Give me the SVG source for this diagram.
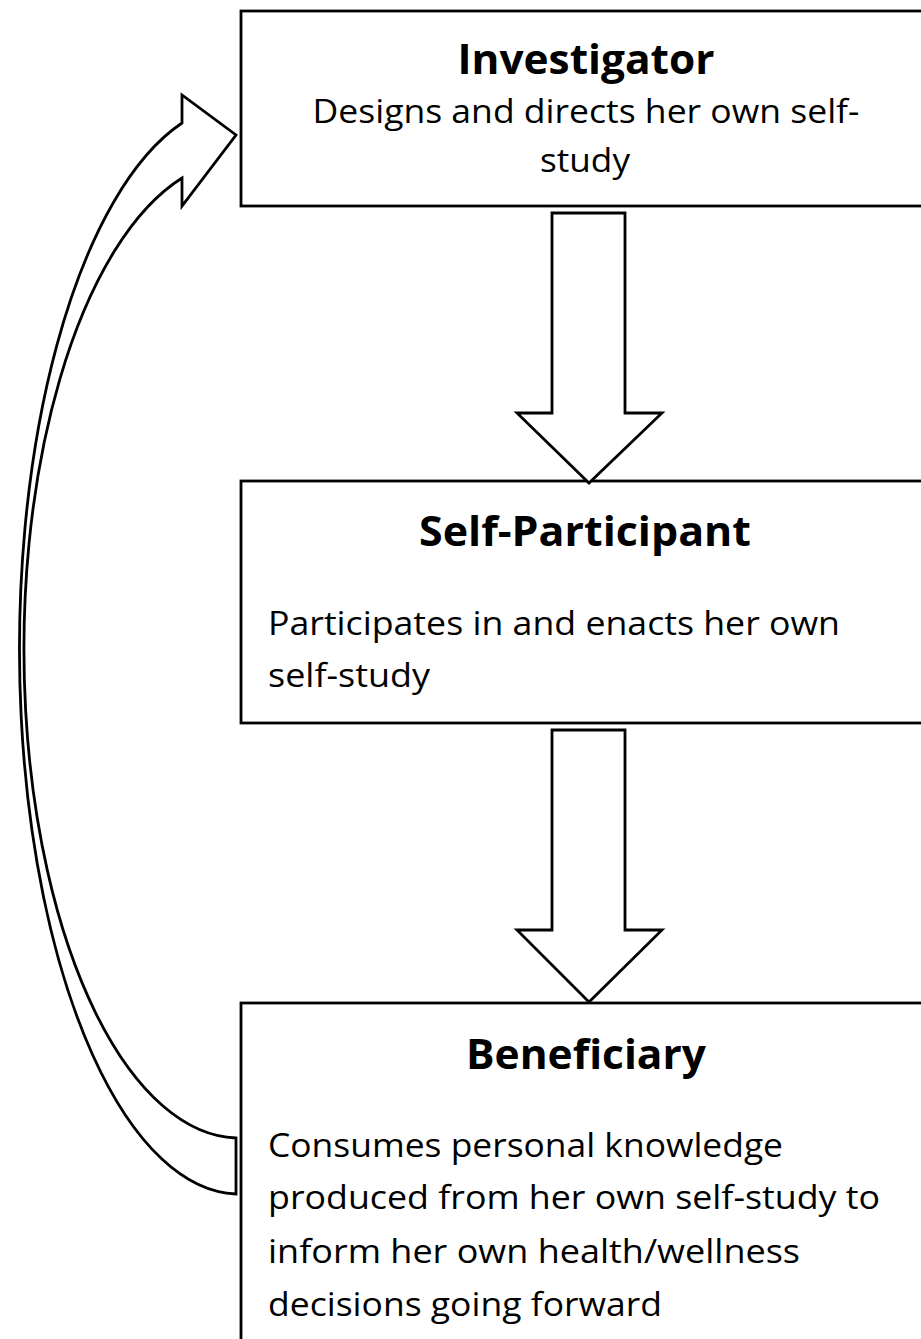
<svg xmlns="http://www.w3.org/2000/svg" width="921" height="1339" viewBox="0 0 921 1339">
<style>
.box{fill:#fff;stroke:#000;stroke-width:2.8}
.arr{fill:#fff;stroke:#000;stroke-width:2.8;stroke-linejoin:miter}
.t{font-family:"Open Sans","Liberation Sans",sans-serif;font-weight:bold;font-size:42px;fill:#000;text-anchor:middle}
.b{font-family:"Open Sans","Liberation Sans",sans-serif;font-size:32px;fill:#000}
.bc{text-anchor:middle}
</style>
<rect width="921" height="1339" fill="#fff"/>
<g id="investigator">
<rect class="box" x="241" y="11" width="700" height="195"/>
<text class="t" x="586" y="74" textLength="257" lengthAdjust="spacingAndGlyphs">Investigator</text>
<text class="b bc" x="586" y="123" textLength="547" lengthAdjust="spacingAndGlyphs">Designs and directs her own self-</text>
<text class="b bc" x="585" y="172" textLength="90" lengthAdjust="spacingAndGlyphs">study</text>
</g>
<g id="self-participant">
<rect class="box" x="241" y="481" width="700" height="242"/>
<text class="t" x="585" y="546" textLength="332" lengthAdjust="spacingAndGlyphs">Self-Participant</text>
<text class="b" x="268" y="635" textLength="572" lengthAdjust="spacingAndGlyphs">Participates in and enacts her own</text>
<text class="b" x="268" y="687" textLength="162" lengthAdjust="spacingAndGlyphs">self-study</text>
</g>
<g id="beneficiary">
<rect class="box" x="241" y="1003" width="700" height="360"/>
<text class="t" x="586" y="1069" textLength="240" lengthAdjust="spacingAndGlyphs">Beneficiary</text>
<text class="b" x="268" y="1157" textLength="515" lengthAdjust="spacingAndGlyphs">Consumes personal knowledge</text>
<text class="b" x="268" y="1209" textLength="612" lengthAdjust="spacingAndGlyphs">produced from her own self-study to</text>
<text class="b" x="268" y="1263" textLength="532" lengthAdjust="spacingAndGlyphs">inform her own health/wellness</text>
<text class="b" x="268" y="1316" textLength="394" lengthAdjust="spacingAndGlyphs">decisions going forward</text>
</g>
<g id="connectors">
<polygon class="arr" points="552,213 625,213 625,413 662,413 589,483 517,413 552,413"/>
<polygon class="arr" points="552,730 625,730 625,930 662,930 589,1002 517,930 552,930"/>
<path class="arr" d="M236,1194 A220,545 0 0 1 182,123 L182,95 L236,135 L182,206 L182,178 A216,489 0 0 0 236,1138 Z"/>
</g>
</svg>
